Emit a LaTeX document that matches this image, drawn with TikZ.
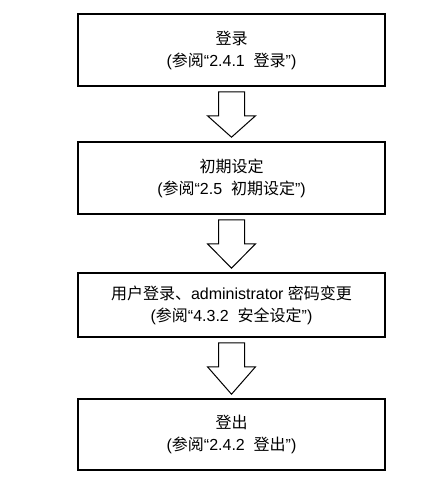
\documentclass[tikz,border=0pt]{standalone}
\usepackage{fontspec}
\setmainfont{Liberation Sans}
\newfontfamily\cjk{Noto Sans CJK SC}
\usetikzlibrary{calc}
\usetikzlibrary{positioning}
\newcommand{\zh}[1]{{\cjk #1}}
\newcommand{\blockarrow}[2]{%
\draw[flowarrow] ($(#1.south)+(-13,5)$) -- ($(#1.south)+(13,5)$) -- ($(#1.south)+(13,29)$)
  -- ($(#1.south)+(24,29)$) -- ($(#2.north)+(0,-4)$) -- ($(#1.south)+(-24,29)$)
  -- ($(#1.south)+(-13,29)$) -- cycle;}

\begin{document}
\begin{tikzpicture}[x=1bp, y=-1bp,
  stepbox/.style={draw=black, line width=1.6bp, minimum width=307bp, align=center,
    inner sep=0pt, font=\fontsize{16bp}{22bp}\selectfont},
  flowarrow/.style={draw=black, line width=1bp, line join=miter, fill=white}]
\useasboundingbox (0,0) rectangle (448,492);

\node[stepbox, minimum height=72bp] (login) at (231.5,50) {\zh{登录}\\(\zh{参阅}“2.4.1~~\zh{登录}”)};
\node[stepbox, minimum height=72bp] (setup) at (231.5,178) {\zh{初期设定}\\(\zh{参阅}“2.5~~\zh{初期设定}”)};
\node[stepbox, minimum height=64bp] (admin) at (231.5,305) {\zh{用户登录、}administrator \zh{密码变更}\\(\zh{参阅}“4.3.2~~\zh{安全设定}”)};
\node[stepbox, minimum height=71bp] (logout) at (231.5,434.5) {\zh{登出}\\(\zh{参阅}“2.4.2~~\zh{登出}”)};

\blockarrow{login}{setup}
\blockarrow{setup}{admin}
\blockarrow{admin}{logout}

\end{tikzpicture}
\end{document}
